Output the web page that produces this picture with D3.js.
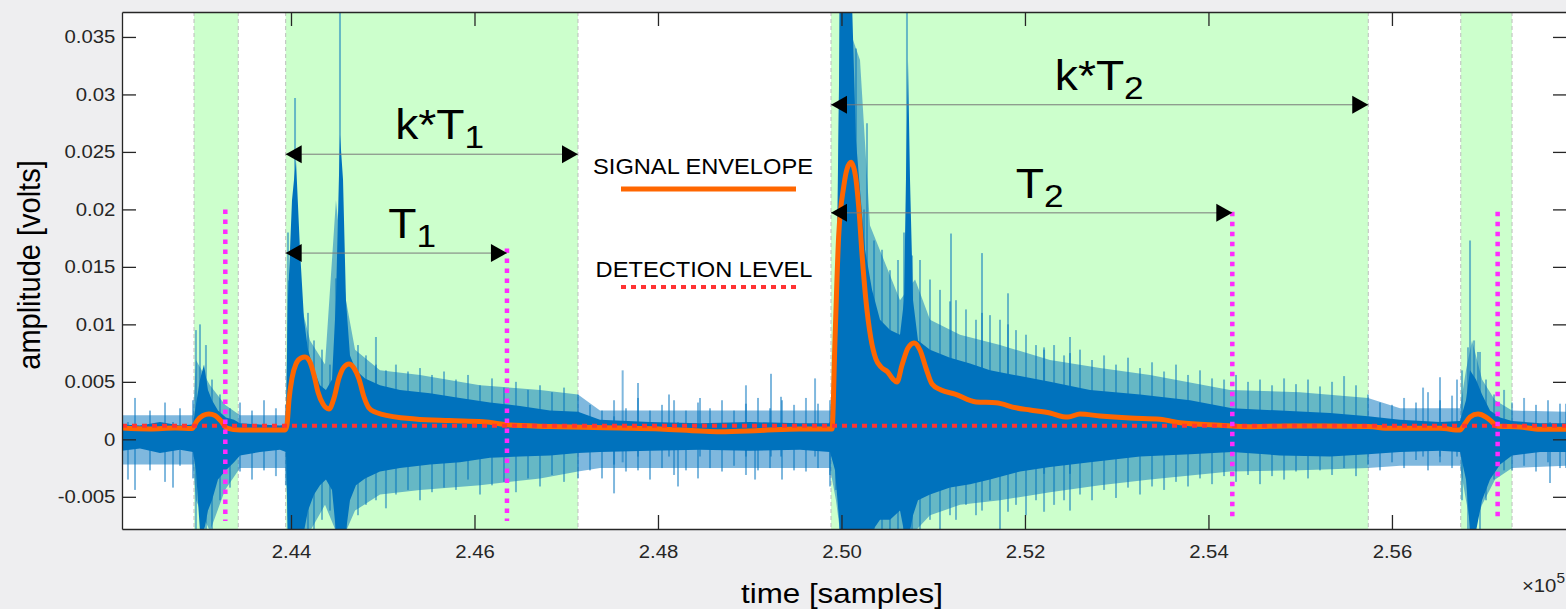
<!DOCTYPE html>
<html>
<head>
<meta charset="utf-8">
<script src="https://cdn.jsdelivr.net/npm/d3@7"></script>
<style>
html, body { margin: 0; padding: 0; background: #eeeef0; }
svg { display: block; font-family: "Liberation Sans", Arial, Helvetica, sans-serif; }
</style>
</head>
<body>
<div id="chart"></div>
<script>
// time is in samples, amplitudes are in millivolts (drawn in volts)
const xTicks = [244000, 246000, 248000, 250000, 252000, 254000, 256000]
const yTicks = [-0.005, 0, 0.005, 0.01, 0.015, 0.02, 0.025, 0.03, 0.035]

// detection windows (green)
const zoneStart = [242943, 243942, 249886, 256750]
const zoneEnd = [243425, 247128, 255742, 257309]

// dense part of the raw signal
const coreT = [242158, 242354, 242572, 242790, 242932, 242964, 243008, 243052, 243095, 243139, 243204, 243291, 243379, 243444, 243662, 243880, 243945, 243967, 244011, 244054, 244098, 244142, 244185, 244251, 244316, 244381, 244447, 244490, 244534, 244567, 244599, 244643, 244708, 244807, 244970, 245188, 245515, 245842, 246169, 246496, 246823, 247128, 247368, 247913, 248458, 249003, 249548, 249875, 249930, 249984, 250115, 250158, 250202, 250257, 250333, 250420, 250529, 250638, 250682, 250703, 250725, 250747, 250780, 250834, 250965, 251183, 251401, 251619, 251946, 252273, 252709, 253254, 253799, 254257, 254780, 255325, 255739, 256088, 256524, 256742, 256807, 256851, 256916, 256982, 257069, 257178, 257309, 257614, 257897]
const coreHi = [1.3, 1.2, 1.5, 1.2, 1.3, 3.0, 5.2, 6.5, 4.3, 3.4, 2.5, 1.9, 1.7, 1.4, 1.3, 1.2, 1.3, 12.1, 20.8, 24.3, 16.5, 10.4, 7.8, 6.0, 4.7, 4.3, 5.2, 12.1, 26.5, 22.6, 12.1, 7.3, 6.0, 5.3, 4.7, 4.3, 4.0, 3.6, 3.2, 2.9, 2.5, 2.4, 1.7, 1.5, 1.4, 1.5, 1.4, 1.4, 2.5, 38, 38, 26.0, 21.7, 16.5, 13.0, 10.4, 9.5, 9.1, 12.1, 22.6, 33.0, 22.6, 12.1, 8.6, 7.8, 7.1, 6.6, 6.0, 5.5, 5.0, 4.3, 3.9, 3.4, 2.7, 2.5, 2.3, 2.0, 1.7, 1.5, 1.6, 3.4, 6.0, 5.2, 3.9, 2.5, 1.9, 1.6, 1.4, 1.4]
const coreLo = [-1.0, -0.8, -1.2, -0.9, -1.1, -2.7, -8, -8, -6.2, -5.3, -3.5, -2.7, -2.0, -1.4, -1.1, -0.9, -1.1, -8, -8, -8, -8, -8, -6.2, -4.8, -4.0, -3.5, -4.4, -8, -8, -8, -8, -5.3, -4.0, -3.4, -2.8, -2.5, -2.2, -2.0, -1.6, -1.5, -1.4, -1.2, -1.1, -1.0, -0.9, -1.0, -0.9, -1.1, -2.7, -8, -8, -8, -8, -8, -8, -7.0, -7.0, -6.2, -8, -8, -8, -8, -6.6, -5.3, -4.8, -4.2, -3.9, -3.5, -2.8, -2.4, -2.0, -1.5, -1.3, -1.1, -1.4, -1.5, -1.3, -1.1, -1.0, -1.1, -3.5, -8, -8, -5.3, -3.5, -2.2, -1.4, -1.1, -1.1]

// densely packed fringe of small spikes around the core
const fringeT = [242158, 242932, 242964, 243117, 243281, 243444, 243945, 243967, 244098, 244207, 244371, 244490, 244599, 244698, 244970, 245406, 246060, 246714, 247128, 247368, 249875, 249940, 249984, 250202, 250311, 250638, 250802, 250965, 251292, 251728, 252273, 252818, 253363, 254235, 254998, 255739, 256088, 256742, 256807, 256873, 256982, 257124, 257309, 257897]
const fringeHi = [2.1, 2.1, 6.9, 4.7, 3.0, 2.1, 2.1, 13.9, 12.1, 8.6, 6.5, 20.8, 12.1, 7.8, 6.0, 5.6, 4.7, 4.3, 3.9, 2.5, 2.5, 5.2, 38, 33.0, 18.6, 12.1, 13.9, 10.4, 9.1, 8.2, 6.9, 6.2, 5.6, 4.3, 4.1, 3.6, 2.7, 2.7, 6.0, 8.6, 5.2, 3.4, 2.5, 2.4]
const fringeLo = [-2.2, -2.2, -5.3, -8, -4.4, -2.5, -2.5, -8, -8, -8, -5.7, -8, -8, -6.2, -4.8, -4.4, -4.0, -3.4, -2.8, -2.5, -2.5, -5.3, -8, -8, -8, -8, -8, -6.6, -5.7, -5.3, -4.6, -4.0, -3.5, -2.8, -2.7, -2.5, -2.3, -2.3, -5.3, -8, -5.7, -3.5, -2.5, -2.3]

// faint outer excursions of the raw signal
const noiseT = [242158, 242300, 242463, 242627, 242790, 242932, 242964, 243073, 243139, 243226, 243335, 243444, 243575, 243706, 243836, 243945, 243967, 244087, 244185, 244251, 244338, 244425, 244490, 244599, 244730, 244817, 244926, 245035, 245144, 245275, 245406, 245537, 245668, 245798, 245929, 246060, 246191, 246322, 246452, 246583, 246714, 246845, 246976, 247128, 247259, 247390, 247521, 247651, 247782, 247913, 248044, 248175, 248305, 248436, 248567, 248698, 248829, 248959, 249090, 249221, 249352, 249483, 249613, 249744, 249875, 249940, 249984, 250158, 250246, 250355, 250442, 250529, 250616, 250682, 250769, 250856, 250965, 251074, 251183, 251248, 251357, 251466, 251532, 251619, 251728, 251815, 251902, 252011, 252120, 252208, 252317, 252426, 252491, 252600, 252731, 252862, 252992, 253123, 253254, 253385, 253516, 253646, 253777, 253908, 254039, 254170, 254300, 254431, 254562, 254693, 254824, 254954, 255085, 255216, 255347, 255478, 255608, 255739, 255870, 256001, 256132, 256262, 256393, 256524, 256655, 256764, 256829, 256895, 256960, 257025, 257113, 257222, 257309, 257440, 257570, 257701, 257832, 257897]
const noiseHi = [3.0, 3.6, 2.5, 3.2, 2.7, 3.4, 9.5, 8.2, 5.2, 3.9, 2.7, 3.2, 2.5, 3.4, 2.7, 3.0, 18.0, 13.5, 11.0, 8.6, 7.8, 6.5, 14.0, 9.5, 8.2, 7.3, 6.5, 6.0, 6.5, 5.9, 6.2, 5.6, 5.9, 5.2, 5.6, 4.7, 5.3, 4.5, 5.0, 4.3, 4.7, 4.1, 4.5, 3.9, 3.0, 2.5, 3.4, 2.7, 3.6, 2.5, 3.0, 3.4, 2.5, 3.2, 2.7, 3.4, 2.5, 3.1, 3.6, 2.7, 3.4, 3.0, 3.6, 3.1, 3.4, 3.9, 38, 34, 20, 17.3, 16.5, 14.7, 15.6, 18, 16, 15.6, 13.9, 13.0, 12.0, 12.1, 11.3, 10.4, 11.0, 10.8, 10.4, 10.0, 9.5, 9.1, 8.2, 7.8, 8.2, 7.3, 7.5, 7.8, 6.9, 7.3, 6.5, 7.1, 6.2, 6.7, 5.9, 6.5, 5.6, 6.0, 5.3, 5.2, 5.6, 5.0, 5.2, 4.7, 5.3, 4.8, 5.2, 4.6, 5.0, 5.5, 4.7, 3.9, 3.2, 3.0, 3.6, 3.2, 4.1, 3.4, 3.8, 6.0, 8.0, 8.6, 7.6, 5.2, 3.9, 4.3, 3.2, 3.6, 3.0, 3.4, 3.1, 3.1]
const noiseLo = [-3.1, -4.4, -2.7, -3.7, -2.3, -3.4, -8, -8, -8, -5.3, -4.2, -2.8, -3.5, -2.7, -3.2, -4.0, -8, -8, -8, -8, -7.0, -6.2, -8, -8, -6.6, -5.7, -5.3, -6.0, -4.8, -4.4, -5.3, -4.6, -4.2, -4.4, -3.5, -4.8, -4.0, -3.7, -4.6, -3.4, -4.1, -3.1, -3.7, -3.4, -2.7, -3.4, -2.2, -2.8, -2.7, -3.5, -2.5, -3.1, -2.7, -3.4, -2.5, -2.8, -2.3, -3.1, -2.7, -2.5, -3.5, -2.7, -2.8, -2.5, -3.1, -4.4, -8, -8, -8, -8, -8, -8, -8, -8, -8, -8, -7.0, -8, -6.6, -7.0, -5.7, -6.6, -6.2, -5.3, -8, -6.3, -5.7, -6.6, -5.3, -6.3, -5.7, -5.3, -6.2, -4.8, -5.3, -4.4, -5.1, -4.2, -4.8, -4.1, -4.4, -3.7, -4.1, -3.4, -3.9, -3.2, -3.7, -3.1, -3.9, -3.2, -3.5, -2.8, -3.4, -2.7, -3.1, -2.5, -3.2, -2.2, -2.7, -2.0, -2.5, -1.8, -2.7, -2.0, -2.5, -5.3, -8, -8, -8, -5.3, -3.5, -2.7, -2.7, -2.3, -2.8, -2.0, -2.5, -2.5]

// isolated spikes
const spikeT = [242223, 242714, 243008, 244044, 244534, 244926, 247521, 247615, 247782, 248120, 248218, 248458, 248959, 249058, 249232, 249341, 249712, 249875, 250278, 250714, 251194, 251532, 251815, 252208, 252491, 256339, 256524, 256709, 256851, 256938, 257723]
const spikeTop = [1.5, 1.5, 10.0, 29.7, 38, 8.9, 2.0, 6.0, 4.9, 3.9, 1.5, 3.6, 4.7, 1.5, 5.7, 3.7, 5.3, 1.5, 27.5, 38, 17.9, 16.2, 12.7, 8.0, 8.9, 4.5, 5.4, 5.2, 17.3, 7.6, 1.5]
const spikeBot = [-3.5, -4.2, -3, -3, -3, -2, -4.7, -2.0, -1.5, -1.5, -4.1, -1.5, -1.5, -3.5, -1.5, -1.5, -1.5, -4.1, -3, -3, -3, -3, -3, -3, -3, -1.5, -1.5, -1.5, -8, -3, -3.8]

// signal envelope
const envT = [242158, 242463, 242736, 242921, 242975, 243041, 243106, 243172, 243237, 243302, 243444, 243662, 243935, 243956, 243978, 244011, 244054, 244109, 244153, 244207, 244251, 244294, 244349, 244414, 244469, 244523, 244578, 244632, 244687, 244741, 244796, 244850, 244916, 244981, 245352, 245722, 246093, 246387, 246823, 247194, 247586, 248022, 248458, 248676, 249112, 249548, 249875, 249897, 249930, 249969, 250025, 250060, 250104, 250153, 250191, 250224, 250264, 250320, 250374, 250431, 250504, 250560, 250605, 250660, 250725, 250791, 250856, 250921, 250987, 251085, 251238, 251466, 251684, 251902, 252055, 252273, 252415, 252469, 252600, 252818, 253145, 253472, 253690, 254126, 254453, 254889, 255216, 255739, 255979, 256524, 256742, 256786, 256851, 256938, 257025, 257091, 257145, 257396, 257614, 257897]
const envMV = [0.98, 0.90, 0.98, 0.94, 1.59, 2.07, 2.20, 2.07, 1.59, 0.98, 0.81, 0.81, 0.81, 1.24, 3.42, 5.33, 6.55, 7.07, 7.16, 6.72, 5.59, 4.12, 3.07, 2.64, 3.59, 5.33, 6.29, 6.55, 6.20, 5.25, 3.68, 2.72, 2.37, 2.20, 1.77, 1.63, 1.54, 1.24, 1.12, 1.04, 0.98, 0.90, 0.72, 0.66, 0.77, 0.90, 0.90, 0.90, 8.81, 17.6, 22.0, 23.5, 24.1, 22.9, 19.9, 16.1, 12.3, 8.81, 7.01, 6.29, 5.86, 5.25, 4.99, 6.46, 7.94, 8.38, 7.77, 6.20, 4.81, 4.29, 3.94, 3.25, 3.18, 2.74, 2.55, 2.29, 1.97, 1.94, 2.20, 2.03, 1.85, 1.74, 1.44, 1.22, 1.10, 1.16, 1.16, 1.11, 0.96, 0.96, 0.81, 1.24, 1.94, 2.20, 1.94, 1.51, 1.16, 1.07, 0.87, 0.87]

const detectionMV = 1.18

// end-of-event markers
const markerT = [243284, 246354, 254260, 257152]
const markerTop = [20.0, 16.6, 19.8, 19.8]
const markerBottom = -7.1

// duration arrows
const spanFrom = [243942, 243942, 249886, 249886]
const spanTo = [247128, 246354, 255742, 254260]
const spanMV = [24.8, 16.2, 29.1, 19.7]
const spanText = ['k*T', 'T', 'k*T', 'T']
const spanSub = ['1', '1', '2', '2']
const spanLabelT = [245620, 245320, 252810, 252160]

const W = 1566, H = 609
const padL = 122, padR = 1567, padT = 12, padB = 529
const sx = 1.1 // text in the source is a bit wider than tall
const ink = '#262626'
const blue = '#0072bd'

const x = d3.scaleLinear().domain([242158, 257908]).range([padL, padR])
const y = d3.scaleLinear().domain([-0.0078, 0.03717]).range([padB, padT])
const v = mv => y(mv / 1000)

const svg = d3.select('#chart').append('svg')
    .attr('width', W)
    .attr('height', H)

svg.append('rect').attr('width', W).attr('height', H).attr('fill', '#eeeef0')
svg.append('rect')
    .attr('x', padL).attr('y', padT)
    .attr('width', padR - padL).attr('height', padB - padT)
    .attr('fill', '#fff')

svg.append('clipPath').attr('id', 'plot')
    .append('rect')
    .attr('x', padL).attr('y', padT)
    .attr('width', padR - padL).attr('height', padB - padT)

const g = svg.append('g').attr('clip-path', 'url(#plot)')

g.selectAll('rect.zone')
    .data(d3.zip(zoneStart, zoneEnd))
    .join('rect')
    .attr('x', d => x(d[0]))
    .attr('y', padT)
    .attr('width', d => x(d[1]) - x(d[0]))
    .attr('height', padB - padT)
    .attr('fill', '#ccffcc')

g.selectAll('line.edge')
    .data(zoneStart.concat(zoneEnd))
    .join('line')
    .attr('x1', d => x(d)).attr('x2', d => x(d))
    .attr('y1', padT).attr('y2', padB)
    .attr('stroke', '#bdbdbd')
    .attr('stroke-width', 1)
    .attr('stroke-dasharray', '4,3')

// faint excursions as thin strokes
g.selectAll('line.noise')
    .data(d3.zip(noiseT, noiseHi, noiseLo).concat(d3.zip(spikeT, spikeTop, spikeBot)))
    .join('line')
    .attr('x1', d => x(d[0])).attr('x2', d => x(d[0]))
    .attr('y1', d => v(d[1])).attr('y2', d => v(d[2]))
    .attr('stroke', blue)
    .attr('stroke-opacity', 0.5)
    .attr('stroke-width', 2)

g.append('path')
    .datum(d3.zip(fringeT, fringeHi, fringeLo))
    .attr('d', d3.area()
        .x(d => x(d[0])).y0(d => v(d[2])).y1(d => v(d[1])))
    .attr('fill', blue)
    .attr('fill-opacity', 0.5)

g.append('path')
    .datum(d3.zip(coreT, coreHi, coreLo))
    .attr('d', d3.area()
        .x(d => x(d[0])).y0(d => v(d[2])).y1(d => v(d[1])))
    .attr('fill', blue)

g.append('path')
    .datum(d3.zip(envT, envMV))
    .attr('d', d3.line().curve(d3.curveMonotoneX).x(d => x(d[0])).y(d => v(d[1])))
    .attr('fill', 'none')
    .attr('stroke', '#ff6600')
    .attr('stroke-width', 5)
    .attr('stroke-linejoin', 'round')

g.append('line')
    .attr('x1', padL).attr('x2', padR)
    .attr('y1', v(detectionMV)).attr('y2', v(detectionMV))
    .attr('stroke', '#ff3333')
    .attr('stroke-width', 4)
    .attr('stroke-dasharray', '5,5')

g.selectAll('line.marker')
    .data(d3.zip(markerT, markerTop))
    .join('line')
    .attr('x1', d => x(d[0])).attr('x2', d => x(d[0]))
    .attr('y1', d => v(d[1])).attr('y2', v(markerBottom))
    .attr('stroke', '#ff2bff')
    .attr('stroke-width', 4.5)
    .attr('stroke-dasharray', '4.5,5.5')

// arrows + labels
const spans = d3.zip(spanFrom, spanTo, spanMV, spanText, spanSub, spanLabelT)
spans.forEach(([a, b, mv, txt, sub, lt]) => {
    const x0 = x(a), x1 = x(b), yy = v(mv)
    svg.append('line')
        .attr('x1', x0).attr('x2', x1)
        .attr('y1', yy).attr('y2', yy)
        .attr('stroke', '#7a7a7a').attr('stroke-width', 1)
    svg.append('path')
        .attr('d', `M${x0},${yy}L${x0 + 16},${yy - 9}L${x0 + 16},${yy + 9}Z`)
        .attr('fill', '#000')
    svg.append('path')
        .attr('d', `M${x1},${yy}L${x1 - 16},${yy - 9}L${x1 - 16},${yy + 9}Z`)
        .attr('fill', '#000')
    const t = svg.append('g')
        .attr('transform', `translate(${x(lt)},${yy - 15}) scale(${sx},1)`)
        .append('text')
        .attr('text-anchor', 'middle')
        .attr('font-size', 42)
        .attr('fill', '#000')
    t.append('tspan').text(txt)
    t.append('tspan').attr('font-size', 32).attr('dy', 9).text(sub)
})

// legend annotations
const leg = svg.append('g')
leg.append('g').attr('transform', `translate(703,174) scale(${sx},1)`)
    .append('text').attr('text-anchor', 'middle').attr('font-size', 21.5)
    .text('SIGNAL ENVELOPE')
leg.append('line')
    .attr('x1', 621).attr('x2', 796).attr('y1', 189).attr('y2', 189)
    .attr('stroke', '#ff6600').attr('stroke-width', 5)
leg.append('g').attr('transform', `translate(704,277) scale(${sx},1)`)
    .append('text').attr('text-anchor', 'middle').attr('font-size', 21.5)
    .text('DETECTION LEVEL')
leg.append('line')
    .attr('x1', 621).attr('x2', 796).attr('y1', 287).attr('y2', 287)
    .attr('stroke', '#ff3333').attr('stroke-width', 4)
    .attr('stroke-dasharray', '5,5')

// axes
const styleAxis = sel => {
    sel.select('.domain').attr('stroke', ink).attr('stroke-width', 1.3)
    sel.selectAll('.tick line').attr('stroke', ink).attr('stroke-width', 1.3)
    sel.selectAll('.tick text')
        .attr('fill', ink)
        .attr('font-size', 18.5)
        .attr('font-family', '"Liberation Sans", Arial, sans-serif')
        .attr('transform', `scale(${sx},1)`)
}

svg.append('g')
    .attr('transform', `translate(0,${padB})`)
    .call(d3.axisBottom(x).tickValues(xTicks).tickSizeInner(-14).tickSizeOuter(0)
        .tickPadding(16).tickFormat(d => (d / 1e5).toFixed(2)))
    .call(styleAxis)

svg.append('g')
    .attr('transform', `translate(0,${padT})`)
    .call(d3.axisTop(x).tickValues(xTicks).tickSizeInner(-14).tickSizeOuter(0).tickFormat(''))
    .call(styleAxis)

svg.append('g')
    .attr('transform', `translate(${padL},0)`)
    .call(d3.axisLeft(y).tickValues(yTicks).tickSizeInner(-14).tickSizeOuter(0)
        .tickPadding(6).tickFormat(d => d === 0 ? '0' : String(+d.toFixed(3))))
    .call(styleAxis)

svg.append('g')
    .attr('transform', `translate(${padR},0)`)
    .call(d3.axisRight(y).tickValues(yTicks).tickSizeInner(-14).tickSizeOuter(0).tickFormat(''))
    .call(styleAxis)

svg.append('g').attr('transform', `translate(842,603) scale(${sx},1)`)
    .append('text').attr('text-anchor', 'middle').attr('font-size', 28.5).attr('fill', '#000')
    .text('time [samples]')

svg.append('g').attr('transform', 'translate(40,265) rotate(-90) scale(1,1.1)')
    .append('text').attr('text-anchor', 'middle').attr('font-size', 29).attr('fill', '#000')
    .text('amplitude [volts]')

const exp = svg.append('g').attr('transform', `translate(1565,592) scale(${sx},1)`)
    .append('text').attr('text-anchor', 'end').attr('fill', ink).attr('font-size', 18.5)
exp.append('tspan').text('×10')
exp.append('tspan').attr('font-size', 14).attr('dy', -9).text('5')
</script>
</body>
</html>
